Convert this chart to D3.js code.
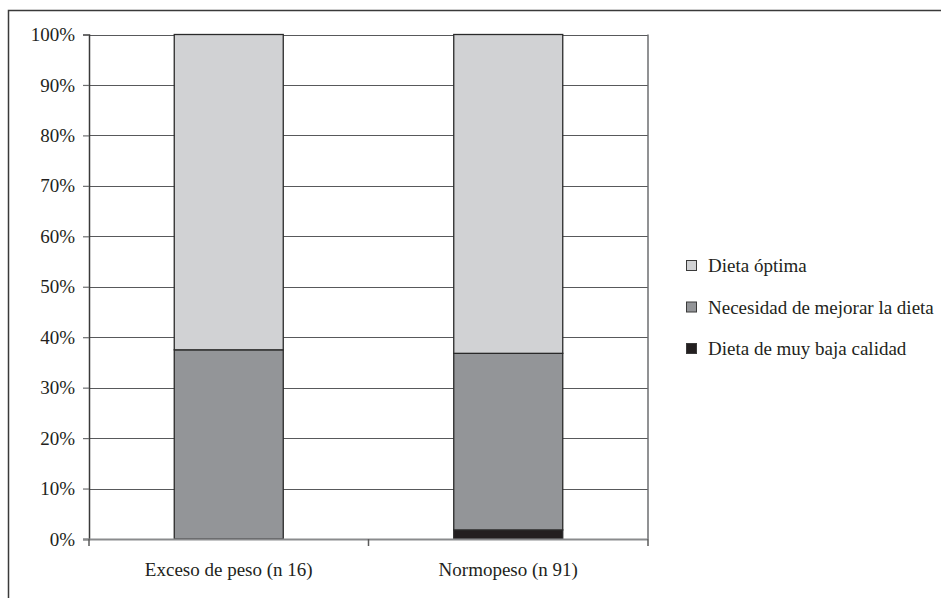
<!DOCTYPE html>
<html>
<head>
<meta charset="utf-8">
<script src="https://cdn.jsdelivr.net/npm/d3@7"></script>
<style>
  html, body { margin: 0; padding: 0; background: #fff; }
  svg text { font-family: "Liberation Serif", "Times New Roman", serif; fill: #231f20; }
</style>
</head>
<body>
<svg id="chart" width="941" height="598"></svg>
<script>
// Diet quality by weight group (percent of each group)
const categories = ["Exceso de peso (n 16)", "Normopeso (n 91)"];
const seriesNames = ["Dieta de muy baja calidad", "Necesidad de mejorar la dieta", "Dieta óptima"];
const muyBaja = [0, 1.8];
const mejorar = [37.5, 35.0];
const optima = [62.5, 63.2];
const yTicks = [0, 10, 20, 30, 40, 50, 60, 70, 80, 90, 100];
const colors = ["#231f20", "#939598", "#d1d2d4"];

const svg = d3.select("#chart");
const W = 941, H = 598;
const plot = { left: 89, right: 648, top: 34.5, bottom: 539 };
const fontSize = 19;

// outer frame
svg.append("rect")
  .attr("x", 8.5).attr("y", 10.5)
  .attr("width", W + 20).attr("height", H + 20)
  .attr("fill", "none").attr("stroke", "#3a3a3a").attr("stroke-width", 1.5);

const x = d3.scaleBand().domain(categories).range([plot.left, plot.right]).paddingInner(0.61).paddingOuter(0.305);
const xOuter = d3.scaleBand().domain(categories).range([plot.left, plot.right]);
const y = d3.scaleLinear().domain([0, 100]).range([plot.bottom, plot.top]);

// gridlines
svg.append("g").selectAll("line").data(yTicks.filter(t => t > 0)).join("line")
  .attr("x1", plot.left).attr("x2", plot.right)
  .attr("y1", d => Math.round(y(d)) + 0.5).attr("y2", d => Math.round(y(d)) + 0.5)
  .attr("stroke", "#58595b").attr("stroke-width", 1.2);

// right edge of plot area
svg.append("line")
  .attr("x1", plot.right).attr("x2", plot.right)
  .attr("y1", plot.top).attr("y2", plot.bottom)
  .attr("stroke", "#6d6e70").attr("stroke-width", 1.5);

// stacked bars
const rows = categories.map((c, i) => ({ cat: c, muyBaja: muyBaja[i], mejorar: mejorar[i], optima: optima[i] }));
const stack = d3.stack().keys(["muyBaja", "mejorar", "optima"]);
const layers = stack(rows);
svg.append("g").selectAll("g").data(layers).join("g")
  .attr("fill", (d, i) => colors[i])
  .selectAll("rect").data(d => d).join("rect")
  .attr("x", d => x(d.data.cat))
  .attr("width", x.bandwidth())
  .attr("y", d => y(d[1]))
  .attr("height", d => Math.max(0, y(d[0]) - y(d[1])))
  .attr("stroke", d => (d[1] - d[0]) > 0 ? "#2a2a2a" : "none")
  .attr("stroke-width", 1.3);

// y axis
const yAxis = svg.append("g").attr("transform", `translate(${plot.left},0)`)
  .call(d3.axisLeft(y).tickValues(yTicks).tickFormat(d => d + "%").tickSize(6).tickPadding(8));
yAxis.select(".domain").attr("stroke", "#3a3a3a").attr("stroke-width", 1.5);
yAxis.selectAll(".tick line").attr("stroke", "#6d6e70").attr("stroke-width", 1.2);
yAxis.selectAll("text").attr("font-size", fontSize).attr("font-family", "Liberation Serif").attr("fill", "#231f20");

// x axis
const xAxis = svg.append("g").attr("transform", `translate(0,${plot.bottom})`);
xAxis.append("line")
  .attr("x1", plot.left - 6).attr("x2", plot.right)
  .attr("y1", 0.5).attr("y2", 0.5)
  .attr("stroke", "#8a8b8d").attr("stroke-width", 1.8);
const tickX = [plot.left, ...categories.map(c => xOuter(c) + xOuter.bandwidth())];
xAxis.selectAll("line.tk").data(tickX).join("line").attr("class", "tk")
  .attr("x1", d => d).attr("x2", d => d)
  .attr("y1", 0).attr("y2", 7)
  .attr("stroke", "#5a5a5a").attr("stroke-width", 1.5);
xAxis.selectAll("text").data(categories).join("text")
  .attr("x", d => xOuter(d) + xOuter.bandwidth() / 2)
  .attr("y", 37)
  .attr("text-anchor", "middle")
  .attr("font-size", fontSize)
  .text(d => d);

// legend
const legendItems = [seriesNames[2], seriesNames[1], seriesNames[0]];
const legendColors = [colors[2], colors[1], colors[0]];
const lg = svg.append("g").attr("transform", "translate(686,260)");
const li = lg.selectAll("g").data(legendItems).join("g")
  .attr("transform", (d, i) => `translate(0,${i * 41.5})`);
li.append("rect").attr("x", 0.5).attr("y", 0.5).attr("width", 10).attr("height", 10)
  .attr("fill", (d, i) => legendColors[i]).attr("stroke", "#3a3a3a").attr("stroke-width", 1);
li.append("text").attr("x", 22).attr("y", 12).attr("font-size", fontSize).text(d => d);
</script>
</body>
</html>
